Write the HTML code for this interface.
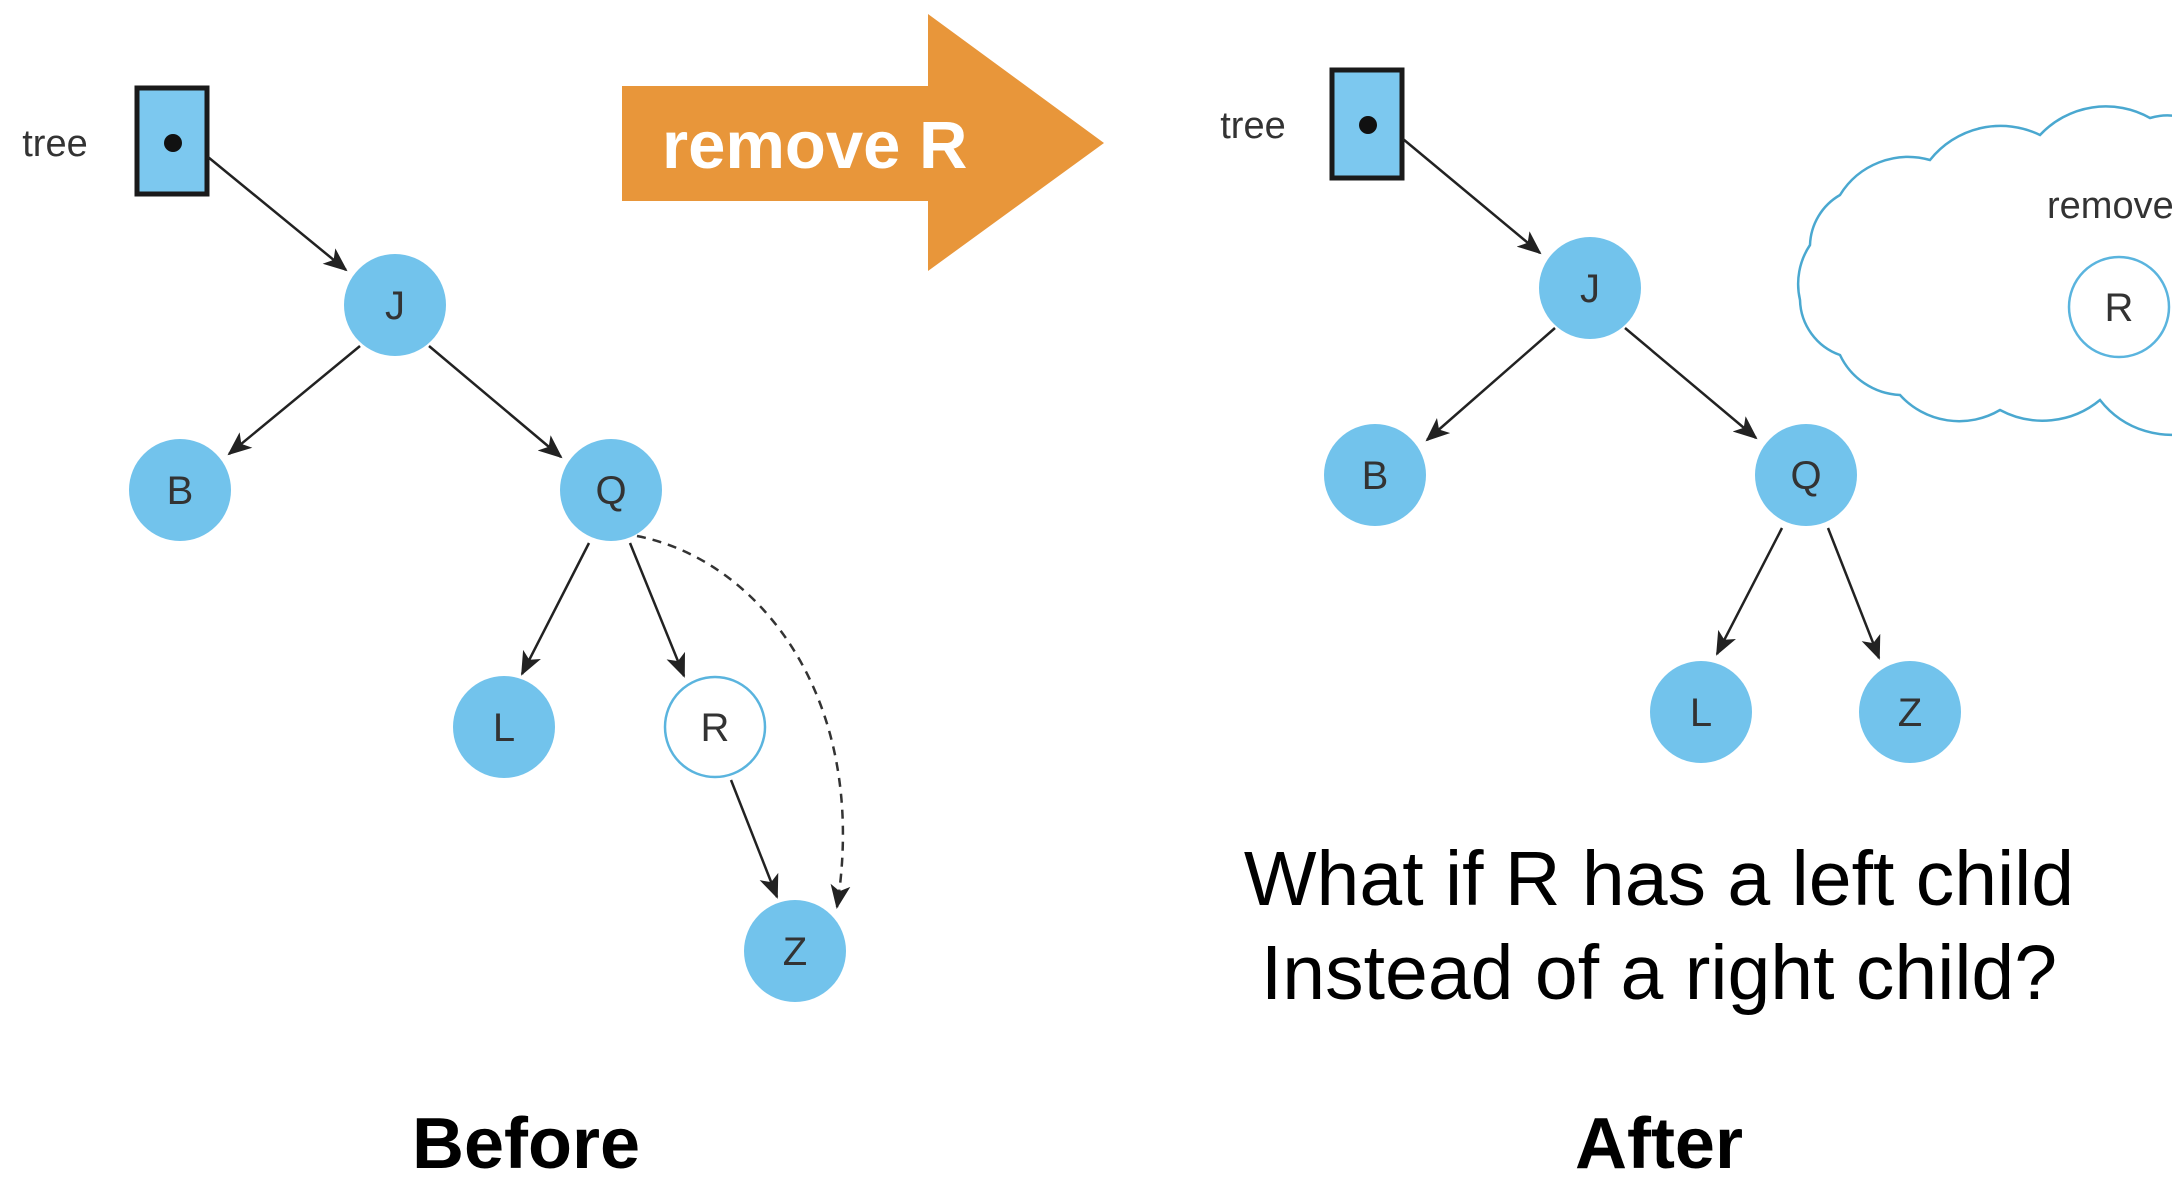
<!DOCTYPE html>
<html><head><meta charset="utf-8"><style>
html,body{margin:0;padding:0;background:#fff;width:2172px;height:1200px;overflow:hidden}
svg{display:block}
.n{fill:#72c3ec}
.t{font-family:"Liberation Sans",sans-serif;font-size:40px;fill:#333;text-anchor:middle}
</style></head><body>
<svg width="2172" height="1200" viewBox="0 0 2172 1200">
<defs>
<marker id="ah2" markerWidth="24" markerHeight="20" refX="22" refY="10" orient="auto" markerUnits="userSpaceOnUse" viewBox="0 0 24 20"><path d="M0,0 L24,10 L0,20 L6,10 Z" fill="#222"/></marker></defs>
<style>.e{stroke:#222;stroke-width:2.5;fill:none;marker-end:url(#ah2)}</style>
<!-- Before -->
<text x="55" y="156" class="t" style="font-size:38px">tree</text>
<rect x="137" y="88" width="70" height="106" fill="#7cc8ef" stroke="#1a1a1a" stroke-width="5"/>
<circle cx="173" cy="143" r="9" fill="#111"/>
<line x1="208" y1="157" x2="346" y2="270" class="e"/>
<line x1="360" y1="346" x2="229" y2="454" class="e"/>
<line x1="429" y1="346" x2="561" y2="457" class="e"/>
<line x1="589" y1="543" x2="522" y2="674" class="e"/>
<line x1="630" y1="543" x2="684" y2="676" class="e"/>
<line x1="731" y1="780" x2="777" y2="897" class="e"/>
<path d="M637,536 C760,560 870,700 837,907" stroke="#333" stroke-width="2.5" fill="none" stroke-dasharray="9,7" marker-end="url(#ah2)"/>
<circle cx="395" cy="305" r="51" class="n"/><text x="395" y="319" class="t">J</text>
<circle cx="180" cy="490" r="51" class="n"/><text x="180" y="504" class="t">B</text>
<circle cx="611" cy="490" r="51" class="n"/><text x="611" y="504" class="t">Q</text>
<circle cx="504" cy="727" r="51" class="n"/><text x="504" y="741" class="t">L</text>
<circle cx="715" cy="727" r="50" fill="#fff" stroke="#5ab4de" stroke-width="2.5"/><text x="715" y="741" class="t">R</text>
<circle cx="795" cy="951" r="51" class="n"/><text x="795" y="965" class="t">Z</text>
<!-- Arrow -->
<path d="M622,86 L928,86 L928,14 L1104,143 L928,271 L928,201 L622,201 Z" fill="#e8963a"/>
<text x="662" y="168" font-family="Liberation Sans,sans-serif" font-weight="bold" font-size="67" fill="#fff">remove R</text>
<!-- After -->
<path d="M1800,300 A70,70 0 0 1 1810,245 A60,60 0 0 1 1840,195 A80,80 0 0 1 1930,160 A90,90 0 0 1 2040,135 A90,90 0 0 1 2150,118 A60,60 0 0 1 2200,125 L2200,430 A90,90 0 0 1 2100,400 A90,90 0 0 1 2000,410 A80,80 0 0 1 1900,395 A70,70 0 0 1 1840,355 A60,60 0 0 1 1800,300 Z" fill="#fff" stroke="#4aa8d0" stroke-width="2.5"/>
<text x="2047" y="218" class="t" style="text-anchor:start;font-size:38px">remove</text>
<circle cx="2119" cy="307" r="50" fill="#fff" stroke="#5ab4de" stroke-width="2.5"/><text x="2119" y="321" class="t">R</text>
<text x="1253" y="138" class="t" style="font-size:38px">tree</text>
<rect x="1332" y="70" width="70" height="108" fill="#7cc8ef" stroke="#1a1a1a" stroke-width="5"/>
<circle cx="1368" cy="125" r="9" fill="#111"/>
<line x1="1403" y1="139" x2="1540" y2="253" class="e"/>
<line x1="1555" y1="328" x2="1427" y2="440" class="e"/>
<line x1="1625" y1="328" x2="1756" y2="438" class="e"/>
<line x1="1782" y1="528" x2="1717" y2="654" class="e"/>
<line x1="1828" y1="528" x2="1879" y2="658" class="e"/>
<circle cx="1590" cy="288" r="51" class="n"/><text x="1590" y="302" class="t">J</text>
<circle cx="1375" cy="475" r="51" class="n"/><text x="1375" y="489" class="t">B</text>
<circle cx="1806" cy="475" r="51" class="n"/><text x="1806" y="489" class="t">Q</text>
<circle cx="1701" cy="712" r="51" class="n"/><text x="1701" y="726" class="t">L</text>
<circle cx="1910" cy="712" r="51" class="n"/><text x="1910" y="726" class="t">Z</text>
<g font-family="Liberation Sans,sans-serif" text-anchor="middle" fill="#000">
<text x="1659" y="905" font-size="77">What if R has a left child</text>
<text x="1659" y="999" font-size="77">Instead of a right child?</text>
<text x="526" y="1168" font-size="72" font-weight="bold">Before</text>
<text x="1659" y="1168" font-size="72" font-weight="bold">After</text>
</g>
</svg>
</body></html>
